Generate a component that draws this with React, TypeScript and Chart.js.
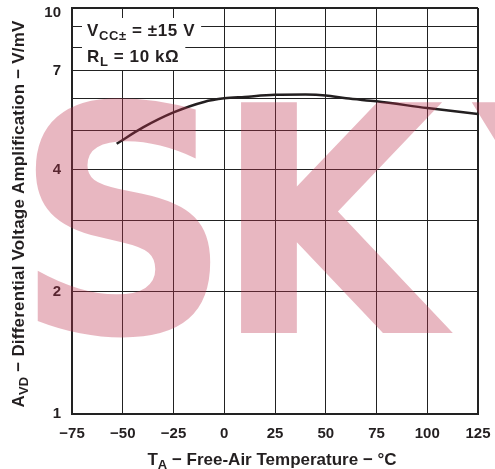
import React, { useEffect, useRef } from "react";
import { Chart, registerables } from "chart.js";

Chart.register(...registerables);

// ---- data ----
const temperatures = [-53, -40, -25, -10, 0, 10, 25, 40, 50, 60, 75, 100, 125];
const amplification = [4.63, 5.08, 5.53, 5.87, 5.99, 6.04, 6.11, 6.12, 6.09, 5.99, 5.89, 5.67, 5.48];
const xTickValues = [-75, -50, -25, 0, 25, 50, 75, 100, 125];
const yGridValues = [1, 2, 3, 4, 5, 6, 7, 8, 9, 10];
const yLabelValues = [1, 2, 4, 7, 10];

type Part = { t: string; sub?: boolean };
const xTitle: Part[] = [{ t: "T" }, { t: "A", sub: true }, { t: " \u2212 Free-Air Temperature \u2212 \u00B0C" }];
const yTitle: Part[] = [{ t: "A" }, { t: "VD", sub: true }, { t: " \u2212 Differential Voltage Amplification \u2212 V/mV" }];
const legendLine1: Part[] = [{ t: "V" }, { t: "CC\u00B1", sub: true }, { t: " = \u00B115 V" }];
const legendLine2: Part[] = [{ t: "R" }, { t: "L", sub: true }, { t: " = 10 k\u03A9" }];
const watermarkLetters = ["S", "K", "Y"];

const FAMILY = "'Liberation Sans', Arial, Helvetica, sans-serif";
const INK = "#231f20";

function partsWidth(ctx: CanvasRenderingContext2D, parts: Part[], size: number, subSize: number, spacing = 0) {
  let w = 0;
  (ctx as any).letterSpacing = `${spacing}px`;
  for (const p of parts) {
    ctx.font = `bold ${p.sub ? subSize : size}px ${FAMILY}`;
    w += ctx.measureText(p.t).width;
  }
  (ctx as any).letterSpacing = "0px";
  return w;
}

function drawParts(
  ctx: CanvasRenderingContext2D,
  parts: Part[],
  x: number,
  y: number,
  size: number,
  subSize: number,
  subDy: number,
  spacing = 0
) {
  let cx = x;
  ctx.textAlign = "left";
  ctx.textBaseline = "alphabetic";
  (ctx as any).letterSpacing = `${spacing}px`;
  for (const p of parts) {
    ctx.font = `bold ${p.sub ? subSize : size}px ${FAMILY}`;
    ctx.fillText(p.t, cx, y + (p.sub ? subDy : 0));
    cx += ctx.measureText(p.t).width;
  }
  (ctx as any).letterSpacing = "0px";
}

const LEGEND_SPACING = 0.6;

const decorPlugin = {
  id: "decor",
  beforeDatasetsDraw(chart: any) {
    const ctx: CanvasRenderingContext2D = chart.ctx;
    const x0 = chart.chartArea.left + 15;
    ctx.save();
    ctx.fillStyle = "#ffffff";
    const w1 = partsWidth(ctx, legendLine1, 17, 13, LEGEND_SPACING);
    const w2 = partsWidth(ctx, legendLine2, 17, 13, LEGEND_SPACING);
    ctx.fillRect(x0 - 5, 18, w1 + 11, 27);
    ctx.fillRect(x0 - 5, 45, w2 + 11, 25);
    ctx.restore();
  },
  afterDraw(chart: any) {
    const ctx: CanvasRenderingContext2D = chart.ctx;
    const area = chart.chartArea;
    ctx.save();
    ctx.fillStyle = INK;

    // legend text
    const x0 = area.left + 15;
    drawParts(ctx, legendLine1, x0, 36, 17, 13, 4, LEGEND_SPACING);
    drawParts(ctx, legendLine2, x0, 62, 17, 13, 4, LEGEND_SPACING);

    // x title
    const xw = partsWidth(ctx, xTitle, 17, 13);
    const xc = (area.left + area.right) / 2 - 3;
    drawParts(ctx, xTitle, xc - xw / 2, 465, 17, 13, 4);

    // y title (rotated)
    const yw = partsWidth(ctx, yTitle, 17, 13, 0.2);
    const yc = 214;
    ctx.save();
    ctx.translate(24, yc);
    ctx.rotate(-Math.PI / 2);
    drawParts(ctx, yTitle, -yw / 2, 0, 17, 13, 4, 0.2);
    ctx.restore();

    // watermark
    ctx.fillStyle = "rgba(189,49,78,0.35)";
    ctx.font = `bold 100px 'DejaVu Sans', sans-serif`;
    const mk = ctx.measureText("K");
    const size = (231 / mk.actualBoundingBoxAscent) * 100;
    ctx.font = `bold ${size}px 'DejaVu Sans', sans-serif`;
    const baseline = 333;
    const spans: [number, number | null][] = [
      [33, 213],
      [237, 455],
      [470, null],
    ];
    let lastScale = 1;
    watermarkLetters.forEach((ch, i) => {
      const m = ctx.measureText(ch);
      const inkW = m.actualBoundingBoxLeft + m.actualBoundingBoxRight;
      const [l, r] = spans[i];
      const sx = r !== null ? (r - l) / inkW : lastScale;
      lastScale = sx;
      ctx.save();
      ctx.translate(l, baseline);
      ctx.scale(sx, 1);
      ctx.fillText(ch, m.actualBoundingBoxLeft, 0);
      ctx.restore();
    });
    ctx.restore();
  },
};

const yMax = yGridValues[yGridValues.length - 1];

export default function App() {
  const ref = useRef<HTMLCanvasElement | null>(null);

  useEffect(() => {
    if (!ref.current) return;
    const data = temperatures.map((t, i) => ({ x: t, y: amplification[i] }));
    const chart = new Chart(ref.current, {
      type: "line",
      data: {
        datasets: [
          {
            data,
            borderColor: INK,
            borderWidth: 2.5,
            pointRadius: 0,
            fill: false,
            cubicInterpolationMode: "monotone",
          } as any,
        ],
      },
      options: {
        animation: false,
        responsive: false,
        devicePixelRatio: 1,
        layout: { padding: { top: 8, right: 17, left: 0, bottom: 0 } },
        plugins: { legend: { display: false }, tooltip: { enabled: false } },
        scales: {
          x: {
            type: "linear",
            min: -75,
            max: 125,
            afterBuildTicks: (scale: any) => {
              scale.ticks = xTickValues.map((v) => ({ value: v }));
            },
            afterFit: (scale: any) => {
              scale.height = 55;
              scale.paddingLeft = 0;
              scale.paddingRight = 0;
            },
            ticks: {
              autoSkip: false,
              maxRotation: 0,
              padding: 11,
              color: INK,
              font: { family: FAMILY, size: 15, weight: "bold" },
              callback: (v: any) => (v < 0 ? "\u2212" + Math.abs(v) : String(v)),
            },
            grid: {
              color: "#222",
              drawTicks: false,
              lineWidth: (c: any) => (c.tick && c.tick.value === 125 ? 2 : 1),
            },
            border: { color: "#222", width: 2 },
          },
          y: {
            type: "logarithmic",
            min: 1,
            max: 10,
            afterBuildTicks: (scale: any) => {
              scale.ticks = yGridValues.map((v) => ({ value: v }));
            },
            afterFit: (scale: any) => {
              scale.width = 72;
              scale.paddingTop = 0;
              scale.paddingBottom = 0;
            },
            ticks: {
              autoSkip: false,
              padding: 11,
              color: INK,
              font: (c: any) => ({
                family: FAMILY,
                size: 15,
                weight: "bold",
                lineHeight: c.tick && c.tick.value === yMax ? 0.7 : 1.2,
              }),
              callback: (v: any) => {
                const n = Number(v);
                if (!yLabelValues.includes(n)) return "";
                return n === yMax ? ["", String(n)] : String(n);
              },
            },
            grid: {
              color: "#222",
              drawTicks: false,
              lineWidth: (c: any) => (c.tick && c.tick.value === 10 ? 2 : 1),
            },
            border: { color: "#222", width: 2 },
          },
        },
      },
      plugins: [decorPlugin],
    });
    return () => chart.destroy();
  }, []);

  return (
    <div style={{ position: "fixed", left: 0, top: 0, width: 495, height: 469, background: "#fff" }}>
      <canvas ref={ref} width={495} height={469} style={{ width: 495, height: 469, display: "block" }} />
    </div>
  );
}
